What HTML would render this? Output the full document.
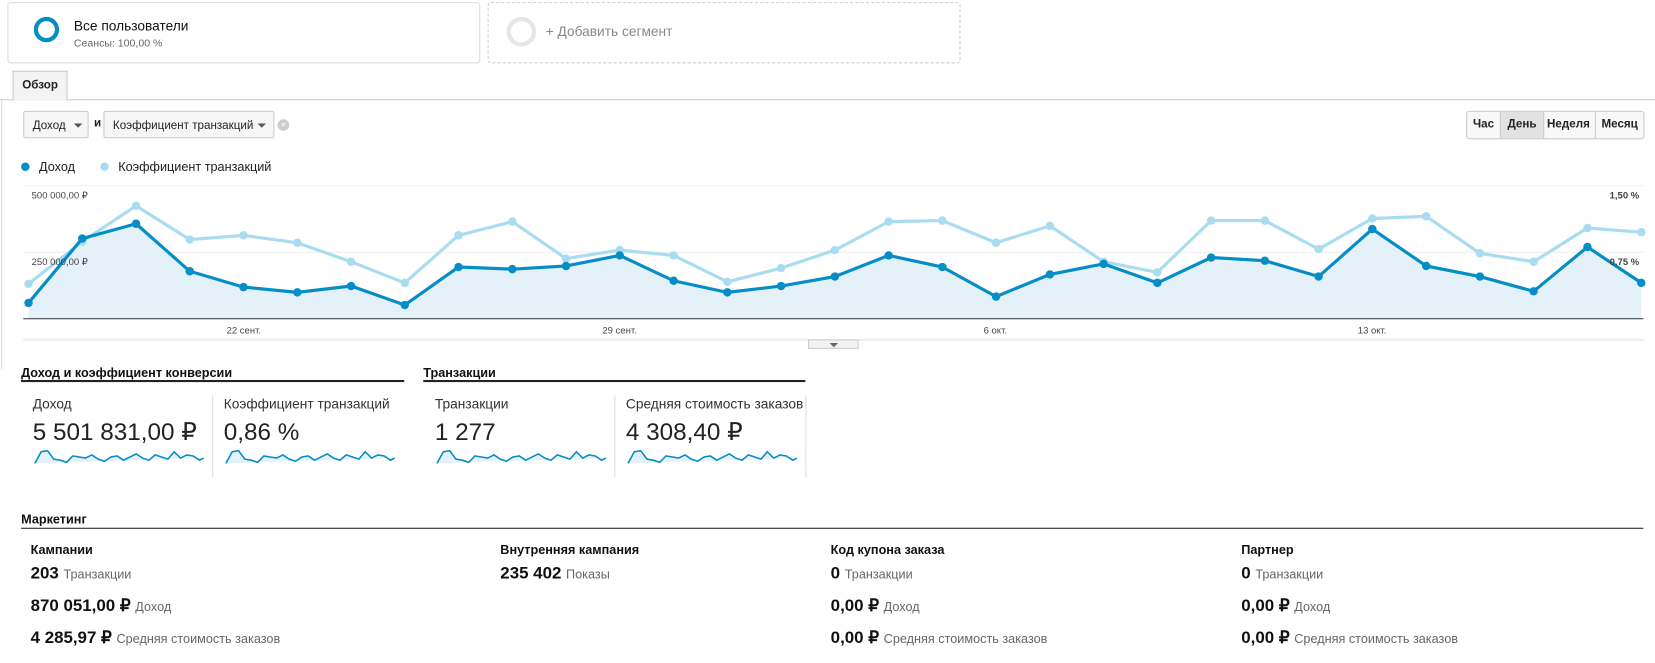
<!DOCTYPE html>
<html><head><meta charset="utf-8"><style>
html,body{margin:0;padding:0}
body{width:1655px;height:663px;background:#fff;overflow:hidden}
#w{position:absolute;left:0;top:0;width:1568px;height:628px;transform:scale(1.05549);transform-origin:0 0;font-family:"Liberation Sans",Arial,sans-serif;color:#222}
.a{position:absolute}
.seg{position:absolute;top:2px;height:56px;border:1px solid #ddd;border-radius:3px;background:#fff}
.btn{position:absolute;top:105px;height:26px;border:1px solid #ccc;border-radius:2px;background:#f6f6f6;font-size:11px;line-height:26px;padding-left:8px;box-sizing:border-box}
.tri{position:absolute;top:11px;width:0;height:0;border-left:4px solid transparent;border-right:4px solid transparent;border-top:4px solid #555}
.h{position:absolute;font-size:12px;font-weight:bold;color:#111}
.sc{position:absolute;font-size:13px;color:#333}
.big{position:absolute;font-size:23px;color:#222}
.mk{position:absolute;font-size:12px;color:#111;font-weight:bold}
.mv{position:absolute;font-size:16px;font-weight:bold;color:#111}
.mv span{font-size:12px;font-weight:normal;color:#666}
</style></head><body><div id="w">
<div class="seg" style="left:7px;width:446px"></div>
<div class="a" style="left:32px;top:16px;width:24px;height:24px;border:4px solid #058dc7;border-radius:50%;box-sizing:border-box"></div>
<div class="a" style="left:70px;top:17px;font-size:13px;color:#111">Все пользователи</div>
<div class="a" style="left:70px;top:36px;font-size:10px;color:#666">Сеансы: 100,00 %</div>
<div class="seg" style="left:462px;width:446px;border:1px dashed #ccc"></div>
<div class="a" style="left:480px;top:16px;width:28px;height:28px;border:4px solid #e6e6e6;border-radius:50%;box-sizing:border-box"></div>
<div class="a" style="left:517px;top:22px;font-size:13px;color:#888">+ Добавить сегмент</div>
<div class="a" style="left:0;top:94px;width:1568px;height:1px;background:#ccc"></div>
<div class="a" style="left:12px;top:67px;width:52px;height:28px;border:1px solid #ccc;border-bottom:none;background:#f4f4f4;box-sizing:border-box;font-size:11px;font-weight:bold;line-height:26px;text-align:center">Обзор</div>
<div class="a" style="left:1px;top:95px;width:1px;height:255px;background:#ddd"></div>
<div class="btn" style="left:22px;width:62px">Доход<div class="tri" style="left:47px"></div></div>
<div class="a" style="left:89px;top:111px;font-size:11px;font-weight:bold">и</div>
<div class="btn" style="left:98px;width:162px">Коэффициент транзакций<div class="tri" style="left:145px"></div></div>
<div class="a" style="left:263px;top:113px;width:11px;height:11px;border-radius:50%;background:#ccc;color:#fff;font-size:9px;line-height:11px;text-align:center">×</div>
<div class="a" style="left:1389px;top:105px;width:169px;height:27px;border:1px solid #ccc;border-radius:3px;background:#f8f8f8;box-sizing:border-box;font-size:11px;font-weight:bold;line-height:25px">
<span class="a" style="left:0;width:31px;text-align:center">Час</span>
<span class="a" style="left:31px;width:40px;height:25px;text-align:center;background:#e2e2e2;border-left:1px solid #ccc;border-right:1px solid #ccc">День</span>
<span class="a" style="left:71px;width:50px;text-align:center;border-right:1px solid #ccc">Неделя</span>
<span class="a" style="left:121px;width:47px;text-align:center">Месяц</span></div>
<div class="a" style="left:20px;top:154px;width:8px;height:8px;border-radius:50%;background:#058dc7"></div>
<div class="a" style="left:37px;top:151px;font-size:12px">Доход</div>
<div class="a" style="left:95px;top:154px;width:8px;height:8px;border-radius:50%;background:#a9dcf0"></div>
<div class="a" style="left:112px;top:151px;font-size:12px">Коэффициент транзакций</div>
<svg class="a" style="left:0;top:0" width="1568" height="340">
<defs>
<marker id="m1" markerUnits="userSpaceOnUse" markerWidth="10" markerHeight="10" refX="5" refY="5"><circle cx="5" cy="5" r="4" fill="#058dc7"/></marker>
<marker id="m2" markerUnits="userSpaceOnUse" markerWidth="10" markerHeight="10" refX="5" refY="5"><circle cx="5" cy="5" r="4" fill="#a9dcf0"/></marker>
</defs>
<line x1="22" y1="176" x2="1557" y2="176" stroke="#eee"/>
<line x1="22" y1="239" x2="1557" y2="239" stroke="#eee"/>
<polygon fill="#e4f1f8" points="27,302 27,287 77.9,226 128.9,212 179.8,257 230.7,272 281.7,277 332.6,271 383.5,289 434.4,253 485.4,255 536.3,252 587.2,242 638.2,266 689.1,277 740,271 791,262 841.9,242 892.8,253 943.7,281 994.7,260 1045.6,250 1096.5,268 1147.5,244 1198.4,247 1249.3,262 1300.2,217 1351.2,252 1402.1,262 1453,276 1504,234 1555,268 1555,302"/>
<line x1="22" y1="302" x2="1557" y2="302" stroke="#333"/>
<polyline fill="none" stroke="#a9dcf0" stroke-width="3" marker-start="url(#m2)" marker-mid="url(#m2)" marker-end="url(#m2)" points="27,269 77.9,229 128.9,195 179.8,227 230.7,223 281.7,230 332.6,248 383.5,268 434.4,223 485.4,210 536.3,245 587.2,237 638.2,242 689.1,267 740,254 791,237 841.9,210 892.8,209 943.7,230 994.7,214 1045.6,248 1096.5,258 1147.5,209 1198.4,209 1249.3,236 1300.2,207 1351.2,205 1402.1,240 1453,248 1504,216 1555,220"/>
<polyline fill="none" stroke="#058dc7" stroke-width="3" marker-start="url(#m1)" marker-mid="url(#m1)" marker-end="url(#m1)" points="27,287 77.9,226 128.9,212 179.8,257 230.7,272 281.7,277 332.6,271 383.5,289 434.4,253 485.4,255 536.3,252 587.2,242 638.2,266 689.1,277 740,271 791,262 841.9,242 892.8,253 943.7,281 994.7,260 1045.6,250 1096.5,268 1147.5,244 1198.4,247 1249.3,262 1300.2,217 1351.2,252 1402.1,262 1453,276 1504,234 1555,268"/>
<g font-size="9" fill="#444">
<text x="30" y="188">500 000,00 ₽</text><text x="30" y="251">250 000,00 ₽</text>
<text x="1553" y="188" text-anchor="end" font-weight="bold">1,50 %</text><text x="1553" y="251" text-anchor="end" font-weight="bold">0,75 %</text>
<text x="231" y="316" text-anchor="middle">22 сент.</text><text x="587" y="316" text-anchor="middle">29 сент.</text>
<text x="943" y="316" text-anchor="middle">6 окт.</text><text x="1300" y="316" text-anchor="middle">13 окт.</text>
</g>
<line x1="22" y1="322" x2="1557" y2="322" stroke="#ddd"/>
<rect x="766" y="322" width="47" height="8" fill="#f2f2f2" stroke="#ccc"/>
<path d="M786 325 L794 325 L790 329Z" fill="#666"/>
</svg>
<div class="h" style="left:20px;top:346px">Доход и коэффициент конверсии</div>
<div class="a" style="left:20px;top:360px;width:363px;height:2px;background:#222"></div>
<div class="h" style="left:401px;top:346px">Транзакции</div>
<div class="a" style="left:401px;top:360px;width:362px;height:2px;background:#222"></div>
<div class="a" style="left:201px;top:375px;width:1px;height:77px;background:#ddd"></div>
<div class="a" style="left:582px;top:375px;width:1px;height:77px;background:#ddd"></div>
<div class="a" style="left:763px;top:375px;width:1px;height:77px;background:#ddd"></div>
<div class="sc" style="left:31px;top:375px">Доход</div><div class="big" style="left:31px;top:396px">5 501 831,00 ₽</div>
<div class="sc" style="left:212px;top:375px">Коэффициент транзакций</div><div class="big" style="left:212px;top:396px">0,86 %</div>
<div class="sc" style="left:412px;top:375px">Транзакции</div><div class="big" style="left:412px;top:396px">1 277</div>
<div class="sc" style="left:593px;top:375px">Средняя стоимость заказов</div><div class="big" style="left:593px;top:396px">4 308,40 ₽</div>
<svg class="a" style="left:0;top:420px" width="780" height="25">
<defs><polyline id="s" points="0,19 6,8 12,7 18,15 24,16 30,18 36,12 42,13 48,14 54,11 60,15 66,17 72,13 78,12 84,16 90,13 96,10 102,14 108,16 114,11 120,13 126,15 132,8 138,14 144,11 150,12 156,16 160,14"/></defs>
<g fill="#e4f1f8" stroke="#058dc7" stroke-width="1.5">
<g transform="translate(33,0)"><use href="#s"/></g>
<g transform="translate(214,0)"><use href="#s"/></g>
<g transform="translate(414,0)"><use href="#s"/></g>
<g transform="translate(595,0)"><use href="#s"/></g>
</g></svg>
<div class="h" style="left:20px;top:485px">Маркетинг</div>
<div class="a" style="left:20px;top:500px;width:1537px;height:1px;background:#222"></div>
<div class="mk" style="left:29px;top:514px">Кампании</div>
<div class="mv" style="left:29px;top:535px">203 <span>Транзакции</span></div>
<div class="mv" style="left:29px;top:564px">870 051,00 ₽ <span>Доход</span></div>
<div class="mv" style="left:29px;top:594px">4 285,97 ₽ <span>Средняя стоимость заказов</span></div>
<div class="mk" style="left:474px;top:514px">Внутренняя кампания</div>
<div class="mv" style="left:474px;top:535px">235 402 <span>Показы</span></div>
<div class="mk" style="left:787px;top:514px">Код купона заказа</div>
<div class="mv" style="left:787px;top:535px">0 <span>Транзакции</span></div>
<div class="mv" style="left:787px;top:564px">0,00 ₽ <span>Доход</span></div>
<div class="mv" style="left:787px;top:594px">0,00 ₽ <span>Средняя стоимость заказов</span></div>
<div class="mk" style="left:1176px;top:514px">Партнер</div>
<div class="mv" style="left:1176px;top:535px">0 <span>Транзакции</span></div>
<div class="mv" style="left:1176px;top:564px">0,00 ₽ <span>Доход</span></div>
<div class="mv" style="left:1176px;top:594px">0,00 ₽ <span>Средняя стоимость заказов</span></div>
</div></body></html>
